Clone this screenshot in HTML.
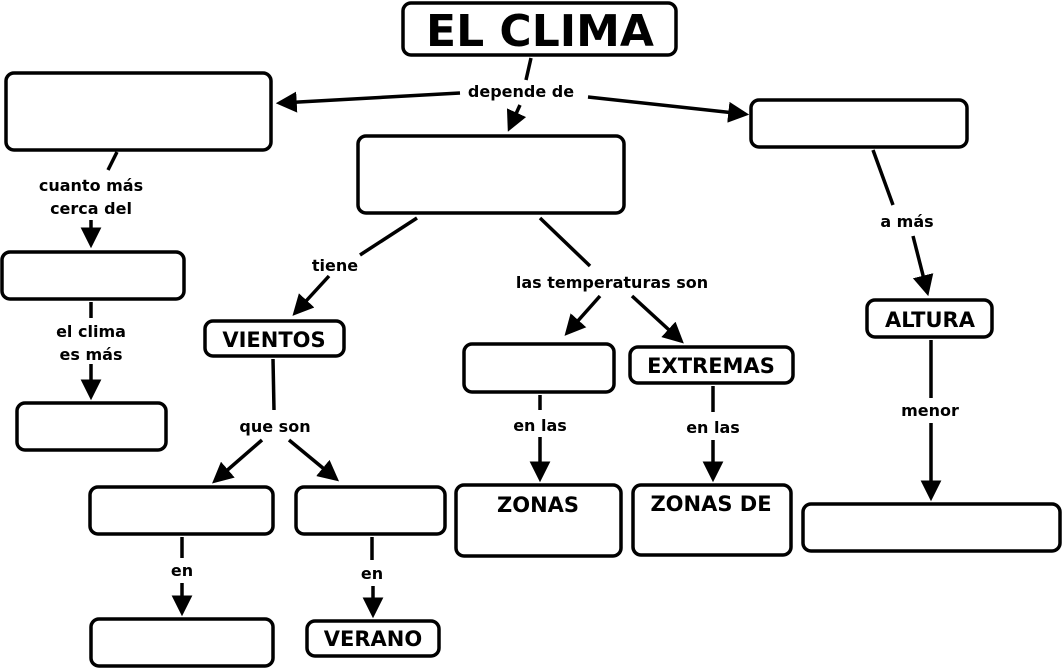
<!DOCTYPE html>
<html><head><meta charset="utf-8"><style>
html,body{margin:0;padding:0;background:#fff;}
svg{display:block}
.b{fill:#fff;stroke:#000;stroke-width:3.5}
.l{font-family:"DejaVu Sans",Verdana,sans-serif;font-weight:bold;font-size:16px;text-anchor:middle}
.n{font-family:"DejaVu Sans",Verdana,sans-serif;font-weight:bold;font-size:21px;text-anchor:middle}
line{stroke:#000;stroke-width:3.5}
</style></head><body>
<svg width="1064" height="671" viewBox="0 0 1064 671">
<defs><marker id="a" markerWidth="6" markerHeight="6" refX="4.5" refY="3" orient="auto" markerUnits="strokeWidth"><path d="M0,0 L6,3 L0,6 z"/></marker></defs>
<rect class="b" x="403" y="3" width="273" height="52" rx="8"/>
<text x="540" y="46" class="n" style="font-size:44px">EL CLIMA</text>
<rect class="b" x="6" y="73" width="265" height="77" rx="8"/>
<rect class="b" x="358" y="136" width="266" height="77" rx="8"/>
<rect class="b" x="751" y="100" width="216" height="47" rx="8"/>
<rect class="b" x="2" y="252" width="182" height="47" rx="8"/>
<rect class="b" x="17" y="403" width="149" height="47" rx="8"/>
<rect class="b" x="205" y="321" width="139" height="35" rx="8"/>
<text x="274" y="347" class="n">VIENTOS</text>
<rect class="b" x="464" y="344" width="150" height="48" rx="8"/>
<rect class="b" x="630" y="347" width="163" height="36" rx="8"/>
<text x="711" y="373" class="n">EXTREMAS</text>
<rect class="b" x="867" y="300" width="125" height="37" rx="8"/>
<text x="930" y="327" class="n">ALTURA</text>
<rect class="b" x="90" y="487" width="183" height="47" rx="8"/>
<rect class="b" x="296" y="487" width="149" height="47" rx="8"/>
<rect class="b" x="456" y="485" width="165" height="71" rx="8"/>
<text x="538" y="512" class="n">ZONAS</text>
<rect class="b" x="633" y="485" width="158" height="70" rx="8"/>
<text x="711" y="511" class="n">ZONAS DE</text>
<rect class="b" x="803" y="504" width="257" height="47" rx="8"/>
<rect class="b" x="91" y="619" width="182" height="47" rx="8"/>
<rect class="b" x="307" y="621" width="132" height="35" rx="8"/>
<text x="373" y="646" class="n">VERANO</text>

<line x1="531" y1="58" x2="526" y2="80"/>
<text x="521" y="97" class="l">depende de</text>
<line x1="460" y1="93" x2="281" y2="103" marker-end="url(#a)"/>
<line x1="588" y1="97" x2="744" y2="114" marker-end="url(#a)"/>
<line x1="520" y1="105" x2="510" y2="127" marker-end="url(#a)"/>

<line x1="117" y1="152" x2="108" y2="170"/>
<text x="91" y="191" class="l">cuanto más</text>
<text x="91" y="214" class="l">cerca del</text>
<line x1="91" y1="220" x2="91" y2="243" marker-end="url(#a)"/>

<line x1="91" y1="302" x2="91" y2="318"/>
<text x="91" y="337" class="l">el clima</text>
<text x="91" y="360" class="l">es más</text>
<line x1="91" y1="364" x2="91" y2="395" marker-end="url(#a)"/>

<line x1="417" y1="218" x2="360" y2="255"/>
<text x="335" y="271" class="l">tiene</text>
<line x1="329" y1="276" x2="296" y2="312" marker-end="url(#a)"/>

<line x1="540" y1="218" x2="590" y2="266"/>
<text x="612" y="288" class="l">las temperaturas son</text>
<line x1="600" y1="296" x2="568" y2="332" marker-end="url(#a)"/>
<line x1="632" y1="296" x2="680" y2="340" marker-end="url(#a)"/>

<line x1="873" y1="150" x2="893" y2="205"/>
<text x="907" y="227" class="l">a más</text>
<line x1="913" y1="236" x2="927" y2="291" marker-end="url(#a)"/>

<line x1="931" y1="340" x2="931" y2="398"/>
<text x="930" y="416" class="l">menor</text>
<line x1="931" y1="423" x2="931" y2="496" marker-end="url(#a)"/>

<line x1="273" y1="359" x2="274" y2="410"/>
<text x="275" y="432" class="l">que son</text>
<line x1="262" y1="440" x2="216" y2="480" marker-end="url(#a)"/>
<line x1="289" y1="440" x2="335" y2="478" marker-end="url(#a)"/>

<line x1="540" y1="395" x2="540" y2="410"/>
<text x="540" y="431" class="l">en las</text>
<line x1="540" y1="437" x2="540" y2="477" marker-end="url(#a)"/>

<line x1="713" y1="386" x2="713" y2="412"/>
<text x="713" y="433" class="l">en las</text>
<line x1="713" y1="440" x2="713" y2="477" marker-end="url(#a)"/>

<line x1="182" y1="537" x2="182" y2="558"/>
<text x="182" y="576" class="l">en</text>
<line x1="182" y1="583" x2="182" y2="611" marker-end="url(#a)"/>

<line x1="372" y1="537" x2="372" y2="560"/>
<text x="372" y="579" class="l">en</text>
<line x1="373" y1="586" x2="373" y2="613" marker-end="url(#a)"/>
</svg>
</body></html>
